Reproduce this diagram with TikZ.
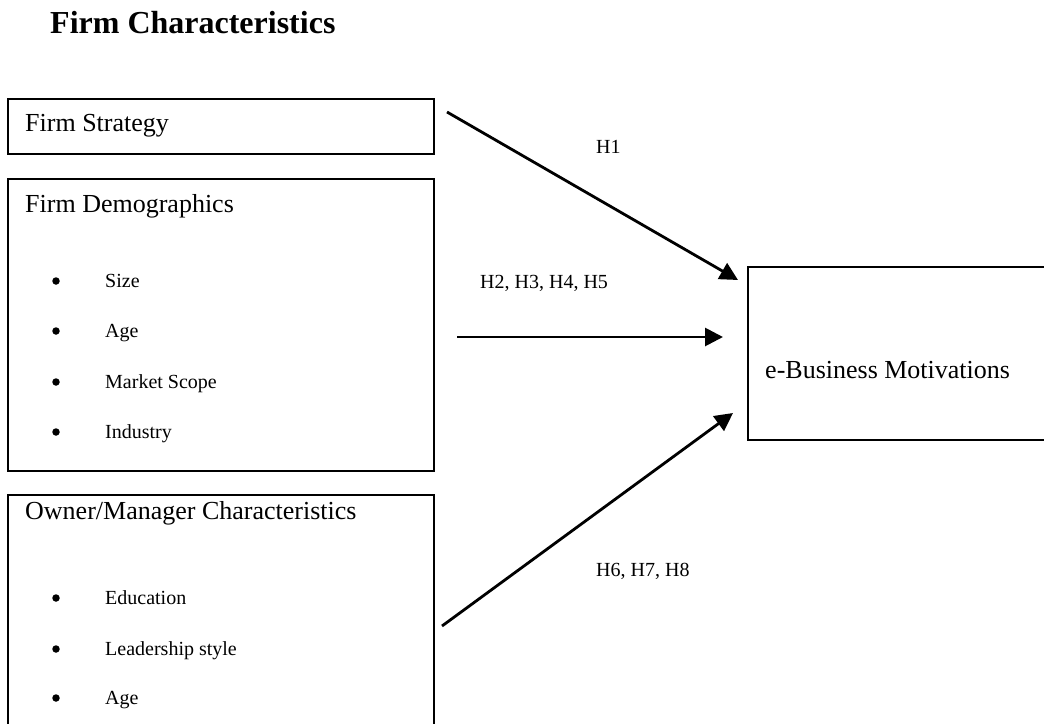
\documentclass[tikz,border=0pt]{standalone}
\usepackage{fontspec}
\setmainfont{Liberation Serif}
\usetikzlibrary{calc,arrows.meta,positioning}

\begin{document}
\begin{tikzpicture}[x=1pt,y=-1pt,
        box/.style={draw,line width=2.8pt,inner sep=0pt,outer sep=0pt},
        head/.style={anchor=base west,inner sep=0pt,font=\fontsize{26}{30}\selectfont},
        item/.style={anchor=base west,inner sep=0pt,font=\fontsize{20}{24}\selectfont},
        dot/.style={circle,fill,inner sep=0pt,minimum size=7.5pt},
        link/.style={line width=2.8pt,-{Triangle[length=18pt,width=18pt]}}]
        \useasboundingbox (0,0) rectangle (1044,723);
        \clip (0,0) rectangle (1044,723);

        \node[anchor=base west,inner sep=0pt,font=\bfseries\fontsize{32}{38}\selectfont] (title) at (50,33) {Firm Characteristics};

        %boxes on the left
        \node[box,minimum width=426pt,minimum height=55pt] (strat) at (221,126.5) {};
        \node[box,minimum width=426pt,minimum height=292pt] (demo) at (221,325) {};
        \node[box,minimum width=426pt,minimum height=270pt] (owner) at (221,630) {};
        %box on the right
        \node[box,minimum width=360pt,minimum height=173pt] (motiv) at (928,353.5) {};

        \node[head] (stratname) at (25,131) {Firm Strategy};
        \node[head] (demoname) at (25,212) {Firm Demographics};
        \node[head] (ownername) at (25,519) {Owner/Manager Characteristics};
        \node[head] (motivname) at (765,378) {e-Business Motivations};

        \foreach \y/\t [count=\i] in {287/Size,337/Age,388/Market Scope,438/Industry}{
            \node[dot] (demodot\i) at (56,\y-6) {};
            \node[item] (demoitem\i) at (105,\y) {\t};
        }
        \foreach \y/\t [count=\i] in {604/Education,655/Leadership style,704/Age}{
            \node[dot] (ownerdot\i) at (56,\y-6) {};
            \node[item] (owneritem\i) at (105,\y) {\t};
        }

        %arrows
        \coordinate (h1from) at (447,112);
        \coordinate (h1to) at (738,280);
        \coordinate (h2from) at (457,337);
        \coordinate (h2to) at (723,337);
        \coordinate (h6from) at (442,626);
        \coordinate (h6to) at (733,413);
        \draw[link] (h1from) -- (h1to);
        \draw[link] (h2from) -- (h2to);
        \draw[link] (h6from) -- (h6to);

        \node[item] (h1) at (596,153) {H1};
        \node[item] (h2) at (480,288) {H2, H3, H4, H5};
        \node[item] (h6) at (596,576) {H6, H7, H8};
\end{tikzpicture}
\end{document}
